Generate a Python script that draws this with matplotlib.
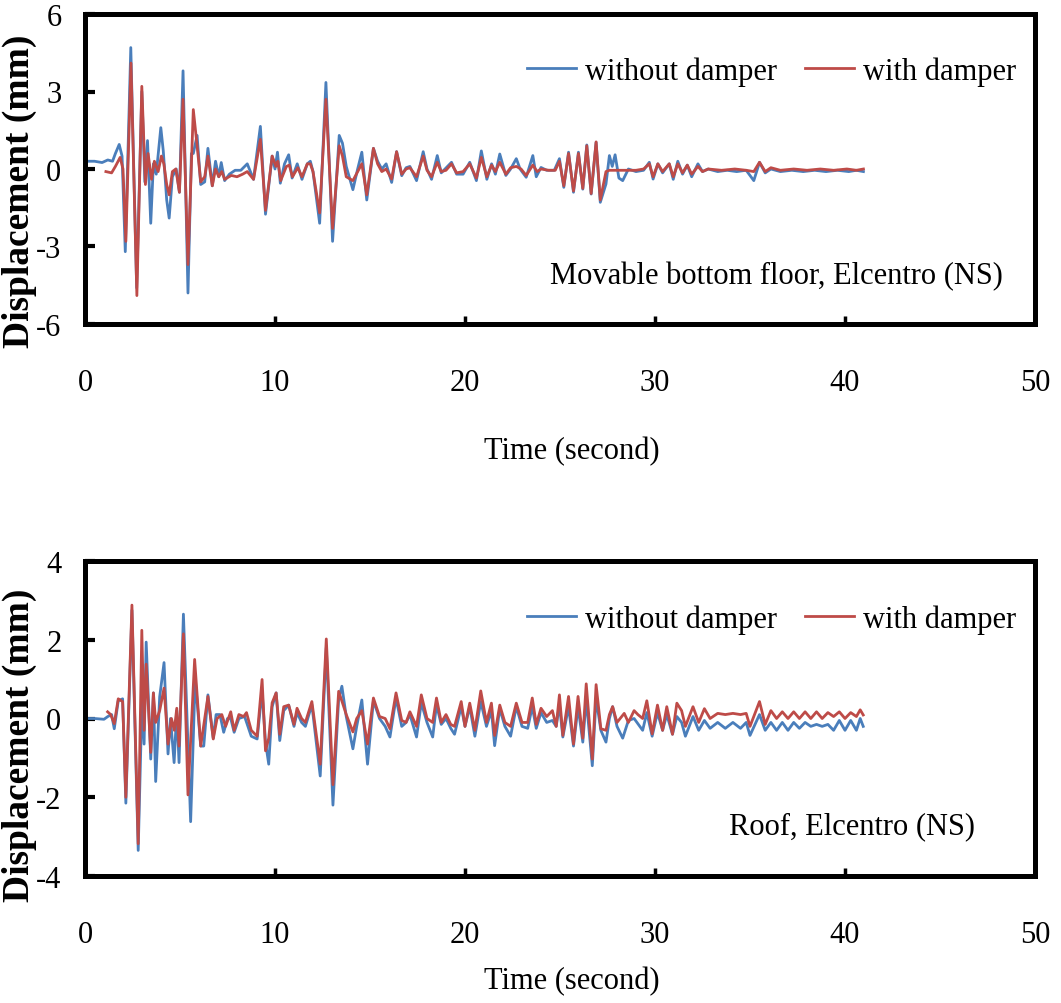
import numpy as np
import matplotlib
matplotlib.use("Agg")
import matplotlib.pyplot as plt

plt.rcParams['font.family'] = ['Liberation Serif', 'DejaVu Serif']
plt.rcParams['axes.unicode_minus'] = False

# ---------------- data (time s, displacement mm) ----------------
top_without = [
    (0.0, 0.3), (0.5, 0.3), (0.9, 0.25), (1.2, 0.35), (1.45, 0.3), (1.6, 0.6), (1.8, 0.95), (1.95, 0.5),
    (2.12, -3.2), (2.41, 4.7), (2.72, -4.6), (2.99, 3.0), (3.15, -0.5), (3.29, 1.1), (3.46, -2.1),
    (3.6, 0.2), (3.75, -0.2), (3.99, 1.6), (4.12, 0.7), (4.3, -1.2), (4.43, -1.9), (4.6, -0.3),
    (4.8, 0.0), (4.97, -0.9), (5.16, 3.8), (5.42, -4.8), (5.6, 0.6), (5.7, 0.6), (5.9, 1.3),
    (6.09, -0.6), (6.3, -0.5), (6.47, 0.8), (6.7, -0.65), (6.87, 0.3), (7.04, -0.3), (7.17, 0.25),
    (7.35, -0.45), (7.6, -0.2), (7.9, -0.05), (8.2, -0.05), (8.54, 0.2), (8.87, -0.4), (9.23, 1.65),
    (9.5, -1.75), (9.85, 0.5), (10.0, 0.0), (10.13, 0.65), (10.28, -0.55), (10.5, 0.2), (10.72, 0.55),
    (10.9, -0.35), (11.17, 0.2), (11.42, -0.4), (11.7, 0.2), (11.86, 0.3), (12.0, -0.1), (12.35, -2.1),
    (12.68, 3.35), (13.03, -2.8), (13.38, 1.3), (13.55, 1.0), (13.75, 0.1), (14.1, -0.8), (14.35, 0.0),
    (14.57, 0.65), (14.83, -1.2), (15.18, 0.8), (15.4, 0.3), (15.62, 0.0), (15.85, 0.2), (16.14, -0.52),
    (16.4, 0.67), (16.67, -0.26), (16.9, 0.05), (17.1, 0.1), (17.45, -0.45), (17.8, 0.67), (18.0, 0.0),
    (18.24, -0.4), (18.54, 0.52), (18.75, -0.15), (18.95, 0.0), (19.29, 0.26), (19.56, -0.2),
    (19.9, -0.2), (20.25, 0.26), (20.6, -0.45), (20.86, 0.7), (21.15, -0.4), (21.4, 0.2), (21.6, -0.2),
    (21.83, 0.58), (22.15, -0.25), (22.4, 0.0), (22.7, 0.4), (22.9, 0.0), (23.22, -0.32), (23.57, 0.52),
    (23.75, -0.3), (24.0, 0.06), (24.3, -0.05), (24.7, -0.05), (24.97, 0.4), (25.2, -0.71), (25.45, 0.65),
    (25.71, -0.9), (25.97, 0.65), (26.2, -0.78), (26.41, 0.93), (26.64, -0.97), (26.9, 1.03),
    (27.12, -1.29), (27.42, -0.58), (27.6, 0.52), (27.75, 0.1), (27.9, 0.55), (28.1, -0.35),
    (28.3, -0.45), (28.6, 0.0), (29.0, -0.1), (29.4, -0.05), (29.7, 0.26), (29.9, -0.39), (30.15, 0.2),
    (30.4, -0.15), (30.75, 0.2), (30.96, -0.4), (31.2, 0.3), (31.45, -0.2), (31.7, 0.15), (31.93, -0.3),
    (32.26, 0.2), (32.5, -0.1), (32.8, 0.0), (33.3, -0.1), (33.8, -0.05), (34.3, -0.1), (34.8, -0.05),
    (35.2, -0.45), (35.5, 0.26), (35.8, -0.15), (36.1, 0.0), (36.6, -0.1), (37.2, -0.05), (37.8, -0.1),
    (38.4, -0.05), (39.0, -0.1), (39.6, -0.05), (40.2, -0.1), (40.6, -0.05), (40.97, -0.1),
]

top_with = [
    (1.1, -0.1), (1.4, -0.15), (1.6, 0.1), (1.85, 0.45), (2.0, 0.0), (2.15, -2.8), (2.42, 4.1),
    (2.73, -4.9), (2.99, 3.2), (3.18, -0.6), (3.32, 0.6), (3.5, -0.4), (3.65, 0.3), (3.85, -0.1),
    (4.02, 0.5), (4.15, 0.2), (4.3, -0.6), (4.43, -1.0), (4.6, -0.1), (4.78, 0.0), (4.97, -0.9),
    (5.16, 2.7), (5.42, -3.7), (5.7, 2.3), (5.9, 0.9), (6.09, -0.5), (6.3, -0.3), (6.47, 0.5),
    (6.7, -0.65), (6.87, 0.0), (7.04, -0.3), (7.2, -0.1), (7.35, -0.4), (7.7, -0.25), (8.0, -0.3),
    (8.3, -0.2), (8.54, -0.1), (8.87, -0.4), (9.23, 1.15), (9.5, -1.6), (9.85, 0.5), (10.05, 0.1),
    (10.15, 0.3), (10.3, -0.45), (10.6, 0.1), (10.75, 0.15), (10.92, -0.3), (11.2, 0.05), (11.42, -0.3),
    (11.7, 0.2), (11.86, 0.2), (12.0, -0.1), (12.35, -1.7), (12.68, 2.7), (13.03, -2.3), (13.38, 0.9),
    (13.55, 0.5), (13.75, -0.3), (14.1, -0.45), (14.35, -0.1), (14.57, 0.2), (14.83, -1.0), (15.18, 0.8),
    (15.4, 0.2), (15.62, -0.1), (15.85, 0.0), (16.14, -0.39), (16.4, 0.67), (16.67, -0.2), (16.9, 0.0),
    (17.1, 0.05), (17.45, -0.3), (17.8, 0.5), (18.0, -0.05), (18.24, -0.3), (18.54, 0.26), (18.75, -0.1),
    (19.0, -0.05), (19.29, 0.2), (19.56, -0.15), (19.9, -0.1), (20.25, 0.2), (20.6, -0.35), (20.86, 0.45),
    (21.15, -0.3), (21.4, 0.15), (21.6, -0.1), (21.83, 0.26), (22.15, -0.2), (22.4, 0.05), (22.7, 0.1),
    (22.95, 0.0), (23.22, -0.25), (23.57, 0.15), (23.8, -0.1), (24.0, 0.0), (24.4, -0.05), (24.75, -0.05),
    (24.97, 0.3), (25.2, -0.65), (25.45, 0.6), (25.71, -0.85), (25.97, 0.6), (26.2, -0.75), (26.41, 0.9),
    (26.64, -0.95), (26.9, 1.05), (27.12, -1.2), (27.42, -0.1), (27.6, -0.05), (28.0, -0.05),
    (28.4, -0.05), (29.0, -0.05), (29.4, 0.0), (29.7, 0.2), (29.9, -0.3), (30.15, 0.2), (30.4, -0.1),
    (30.75, 0.2), (30.96, -0.3), (31.2, 0.2), (31.45, -0.15), (31.7, 0.15), (31.93, -0.2), (32.26, 0.1),
    (32.5, -0.1), (32.8, 0.0), (33.5, -0.05), (34.2, 0.0), (34.8, -0.05), (35.2, -0.1), (35.5, 0.26),
    (35.8, -0.1), (36.1, 0.05), (36.6, -0.05), (37.3, 0.0), (38.0, -0.05), (38.7, 0.0), (39.4, -0.05),
    (40.1, 0.0), (40.6, -0.05), (40.97, 0.0),
]

roof_without = [
    (0.0, 0.0), (0.5, 0.0), (1.0, -0.02), (1.2, 0.05), (1.4, 0.1), (1.54, -0.26), (1.75, 0.45),
    (1.98, 0.5), (2.15, -2.15), (2.47, 2.75), (2.8, -3.35), (3.0, 0.5), (3.11, -0.65), (3.22, 1.94),
    (3.46, -1.03), (3.6, 0.65), (3.72, -1.6), (3.93, 0.55), (4.16, 1.42), (4.37, -0.9), (4.5, 0.0),
    (4.69, -1.12), (4.83, 0.2), (4.95, -1.12), (5.18, 2.65), (5.56, -2.62), (5.8, 1.03), (6.09, -0.7),
    (6.25, -0.7), (6.47, 0.6), (6.75, -0.5), (6.9, 0.1), (7.1, 0.1), (7.3, -0.35), (7.5, 0.0),
    (7.67, 0.0), (7.85, -0.35), (8.1, 0.0), (8.4, 0.05), (8.75, -0.45), (9.06, -0.52), (9.32, 0.7),
    (9.5, -0.6), (9.67, -1.16), (9.85, 0.3), (10.06, 0.65), (10.25, -0.56), (10.46, 0.2), (10.72, 0.34),
    (11.0, -0.2), (11.16, 0.15), (11.4, -0.1), (11.6, -0.2), (11.94, 0.35), (12.38, -1.46), (12.7, 1.8),
    (13.05, -2.2), (13.35, 0.5), (13.52, 0.82), (13.75, 0.05), (14.1, -0.77), (14.3, -0.2), (14.57, 0.47),
    (14.87, -1.16), (15.18, 0.45), (15.5, 0.0), (15.8, -0.2), (16.05, -0.47), (16.37, 0.52),
    (16.67, -0.2), (16.9, -0.1), (17.1, 0.1), (17.45, -0.47), (17.7, 0.4), (18.0, -0.1), (18.3, -0.47),
    (18.5, 0.35), (18.75, -0.15), (19.0, 0.0), (19.25, -0.25), (19.45, -0.4), (19.8, 0.3), (20.0, -0.2),
    (20.25, 0.3), (20.52, -0.45), (20.83, 0.43), (21.13, -0.2), (21.39, 0.2), (21.56, -0.69),
    (21.83, 0.25), (22.1, -0.2), (22.4, -0.45), (22.7, 0.3), (23.0, -0.2), (23.3, -0.25), (23.54, 0.3),
    (23.75, -0.25), (24.0, 0.15), (24.3, -0.1), (24.6, -0.05), (24.8, -0.2), (24.97, 0.35),
    (25.15, -0.47), (25.45, 0.3), (25.71, -0.7), (25.95, 0.3), (26.2, -0.6), (26.38, 0.5), (26.7, -1.2),
    (26.9, 0.52), (27.15, -0.3), (27.42, -0.6), (27.6, 0.0), (27.77, 0.3), (28.0, -0.2), (28.3, -0.5),
    (28.6, -0.05), (28.9, 0.0), (29.35, -0.3), (29.57, 0.15), (29.85, -0.45), (30.13, 0.15),
    (30.4, -0.3), (30.62, 0.1), (30.92, -0.4), (31.15, 0.05), (31.4, -0.1), (31.6, -0.45), (32.0, 0.05),
    (32.3, -0.3), (32.6, -0.05), (32.9, -0.25), (33.3, -0.1), (33.7, -0.25), (34.1, -0.1), (34.5, -0.25),
    (34.8, -0.1), (35.0, -0.43), (35.5, 0.1), (35.8, -0.3), (36.1, -0.1), (36.4, -0.3), (36.7, -0.1),
    (37.0, -0.3), (37.3, -0.1), (37.6, -0.25), (37.9, -0.1), (38.2, -0.2), (38.5, -0.15), (38.8, -0.2),
    (39.1, -0.15), (39.4, -0.3), (39.7, -0.05), (40.0, -0.3), (40.3, -0.05), (40.6, -0.3), (40.8, 0.0),
    (40.96, -0.2),
]

roof_with = [
    (1.19, 0.17), (1.35, 0.1), (1.54, -0.13), (1.75, 0.5), (1.98, 0.43), (2.15, -2.0), (2.47, 2.88),
    (2.8, -3.18), (2.99, 2.24), (3.11, -0.3), (3.22, 1.38), (3.46, -0.86), (3.6, 0.65), (3.72, -0.1),
    (3.93, 0.2), (4.16, 0.77), (4.37, -0.65), (4.55, 0.0), (4.7, -0.3), (4.83, 0.26), (4.95, -0.7),
    (5.18, 2.15), (5.42, -1.94), (5.77, 1.5), (6.09, -0.7), (6.47, 0.56), (6.75, -0.52), (6.95, 0.0),
    (7.2, 0.1), (7.4, -0.2), (7.67, 0.17), (7.85, -0.3), (8.1, 0.1), (8.35, 0.05), (8.5, 0.15),
    (8.75, -0.3), (9.06, -0.45), (9.32, 0.99), (9.5, -0.82), (9.67, -0.5), (9.85, 0.4), (10.06, 0.65),
    (10.25, -0.4), (10.46, 0.3), (10.72, 0.34), (11.0, -0.15), (11.16, 0.26), (11.4, 0.0), (11.6, -0.1),
    (11.94, 0.43), (12.38, -1.16), (12.7, 2.02), (13.05, -1.68), (13.35, 0.69), (13.55, 0.4),
    (13.75, 0.1), (14.1, -0.34), (14.3, 0.0), (14.57, 0.2), (14.87, -0.65), (15.18, 0.52), (15.5, 0.05),
    (15.8, 0.0), (16.05, -0.26), (16.37, 0.65), (16.67, -0.05), (16.9, -0.1), (17.1, 0.17),
    (17.45, -0.2), (17.7, 0.6), (18.0, 0.0), (18.3, -0.1), (18.5, 0.52), (18.75, -0.1), (19.0, 0.1),
    (19.25, -0.15), (19.45, -0.2), (19.8, 0.43), (20.0, -0.2), (20.25, 0.39), (20.52, -0.3),
    (20.83, 0.7), (21.13, -0.1), (21.39, 0.39), (21.56, -0.43), (21.83, 0.34), (22.1, -0.1),
    (22.4, -0.2), (22.7, 0.39), (23.0, -0.1), (23.3, -0.1), (23.54, 0.52), (23.75, -0.15), (24.0, 0.26),
    (24.3, 0.05), (24.6, 0.2), (24.8, -0.2), (24.97, 0.6), (25.15, -0.43), (25.45, 0.56), (25.71, -0.65),
    (25.95, 0.56), (26.2, -0.5), (26.38, 0.88), (26.7, -1.03), (26.9, 0.86), (27.15, -0.26),
    (27.42, -0.3), (27.6, 0.1), (27.77, 0.3), (28.0, -0.1), (28.38, 0.13), (28.6, -0.1), (28.9, 0.2),
    (29.1, 0.1), (29.35, 0.0), (29.57, 0.45), (29.85, -0.39), (30.13, 0.34), (30.4, -0.3), (30.62, 0.3),
    (30.92, -0.4), (31.15, 0.39), (31.4, 0.2), (31.6, -0.2), (32.0, 0.3), (32.3, -0.1), (32.6, 0.25),
    (32.9, 0.0), (33.3, 0.13), (33.7, 0.1), (34.1, 0.13), (34.5, 0.1), (34.8, 0.13), (35.0, -0.2),
    (35.5, 0.43), (35.8, -0.15), (36.1, 0.2), (36.4, 0.0), (36.7, 0.17), (37.0, 0.0), (37.3, 0.17),
    (37.6, 0.0), (37.9, 0.17), (38.2, 0.0), (38.5, 0.17), (38.8, 0.0), (39.1, 0.15), (39.4, 0.05),
    (39.7, 0.17), (40.0, 0.0), (40.3, 0.15), (40.6, 0.05), (40.8, 0.22), (40.96, 0.09),
]

series_labels = ["without damper", "with damper"]
panel_titles = ["Movable bottom floor, Elcentro (NS)", "Roof, Elcentro (NS)"]
x_ticks = [0, 10, 20, 30, 40, 50]
top_y_ticks = [-6, -3, 0, 3, 6]
roof_y_ticks = [-4, -2, 0, 2, 4]

BLUE = "#4A7EBB"
RED = "#BE4B48"

W, H = 1061, 1004
fig = plt.figure(figsize=(W / 100, H / 100), dpi=100)


def px_axes(left, top, right, bottom):
    return fig.add_axes([left / W, 1 - bottom / H, (right - left) / W, (bottom - top) / H])


ax1 = px_axes(85, 15, 1035, 325)
ax2 = px_axes(85, 562, 1035, 877)

panels = [
    (ax1, top_without, top_with, top_y_ticks, panel_titles[0], (0.966, 0.155)),
    (ax2, roof_without, roof_with, roof_y_ticks, panel_titles[1], (0.937, 0.16)),
]

for ax, s_wo, s_w, yt, title, tpos in panels:
    a = np.array(s_wo)
    b = np.array(s_w)
    ax.plot(a[:, 0], a[:, 1], color=BLUE, lw=2.0, label=series_labels[0], solid_joinstyle='round')
    ax.plot(b[:, 0], b[:, 1], color=RED, lw=2.0, label=series_labels[1], solid_joinstyle='round')
    ax.set_xlim(x_ticks[0], x_ticks[-1])
    ax.set_ylim(yt[0], yt[-1])
    ax.set_xticks(x_ticks)
    ax.set_yticks(yt)
    ax.set_yticklabels([str(v) for v in yt])
    for sp in ax.spines.values():
        sp.set_linewidth(3.6)
        sp.set_color('black')
    ax.tick_params(axis='y', direction='in', length=7, width=3.0, labelsize=22, pad=17,
                   right=False)
    ax.tick_params(axis='x', direction='in', length=6, width=2.5, labelsize=22, pad=32,
                   top=False)
    ax.legend(loc='center right', bbox_to_anchor=(0.98, 0.815), ncol=2, frameon=False,
              fontsize=22, handlelength=1.6, handletextpad=0.3, columnspacing=0.9,
              borderpad=0, borderaxespad=0)
    ax.text(tpos[0], tpos[1], title, transform=ax.transAxes, ha='right', va='center', fontsize=22)

fig.text(19 / W, 1 - 191 / H, "Displacement (mm)", rotation=90, ha='center', va='center',
         fontsize=27, fontweight='bold')
fig.text(19 / W, 1 - 745 / H, "Displacement (mm)", rotation=90, ha='center', va='center',
         fontsize=27, fontweight='bold')
fig.text(572 / W, 1 - 452 / H, "Time (second)", ha='center', va='center', fontsize=22)
fig.text(572 / W, 1 - 982 / H, "Time (second)", ha='center', va='center', fontsize=22)

fig.savefig("out.png", dpi=100, facecolor='white')
